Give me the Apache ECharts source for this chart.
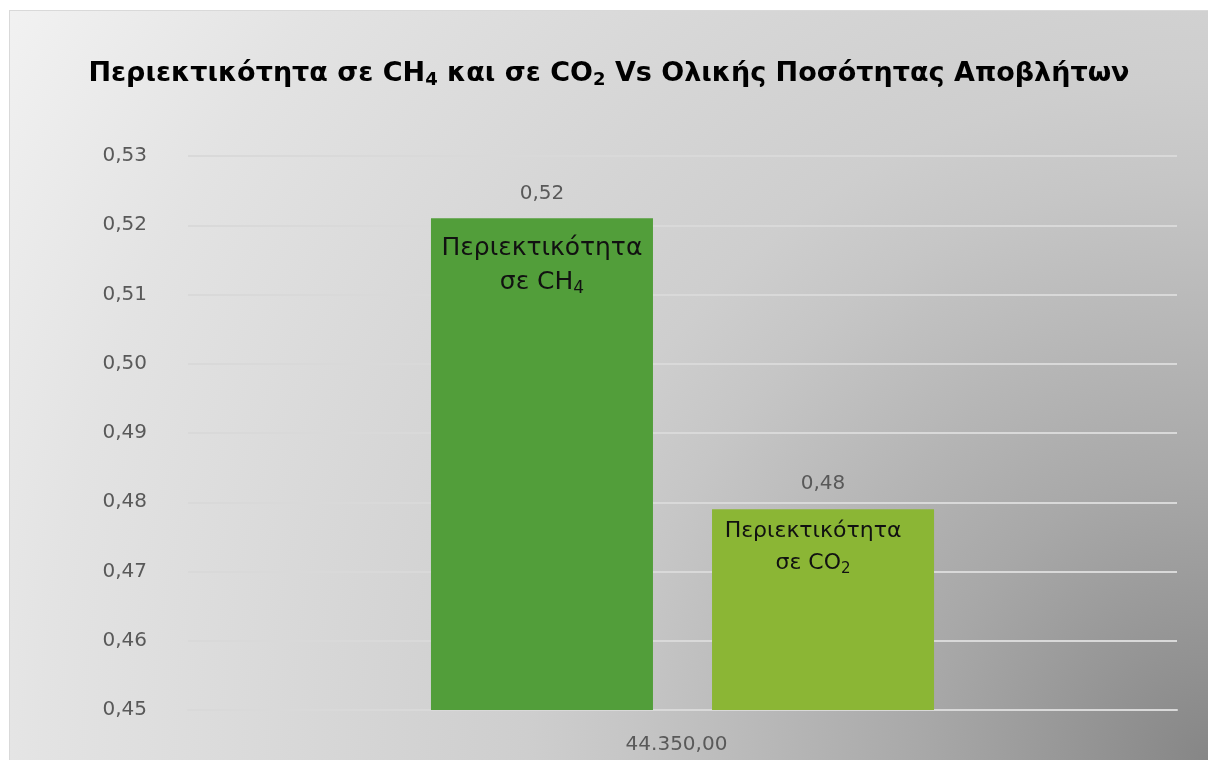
<!DOCTYPE html>
<html>
<head>
<meta charset="utf-8">
<script src="https://cdn.jsdelivr.net/npm/echarts@6/dist/echarts.min.js"></script>
<style>
  html, body { margin: 0; padding: 0; background: #ffffff; }
  #chart {
    position: absolute; left: 9px; top: 10px;
    width: 1199px; height: 750px; box-sizing: border-box;
    border-left: 1px solid #d9d9d9; border-top: 1px solid #d9d9d9;
  }
</style>
</head>
<body>
<div id="chart"></div>
<script>
// Waste quantity (single category) and gas fractions
const categories = ['44.350,00'];
const ch4Values = [0.521];
const co2Values = [0.479];
const seriesNames = ['Περιεκτικότητα σε CH4', 'Περιεκτικότητα σε CO2'];
const yTicks = { min: 0.45, max: 0.53, interval: 0.01 };

const FONT = '"DejaVu Sans", "Noto Sans", sans-serif';
const fmtComma = (v, d) => v.toFixed(d).replace('.', ',');

const chart = echarts.init(document.getElementById('chart'), null, { renderer: 'canvas' });

const barCommon = {
  type: 'bar',
  barWidth: 222,
  barGap: '26.6%'
};

chart.setOption({
  animation: false,
  // grey fill that darkens toward the bottom-right corner
  backgroundColor: {
    type: 'radial', x: 1198, y: 749, r: 1420, global: true,
    colorStops: [
      { offset: 0, color: '#868686' },
      { offset: 0.2, color: '#a8a8a8' },
      { offset: 0.41, color: '#c6c6c6' },
      { offset: 0.48, color: '#cecece' },
      { offset: 0.82, color: '#e3e3e3' },
      { offset: 1, color: '#f2f2f2' }
    ]
  },
  title: {
    text: 'Περιεκτικότητα σε CH{s|4} και σε CO{s|2} Vs Ολικής Ποσότητας Αποβλήτων',
    left: 'center',
    top: 42,
    textStyle: {
      fontFamily: FONT, fontSize: 27, fontWeight: 'bold', color: '#000000',
      rich: {
        s: { fontFamily: FONT, fontSize: 18, fontWeight: 'bold', color: '#000000', padding: [13, 0, 0, 0] }
      }
    }
  },
  grid: { left: 178, right: 31, top: 145, bottom: 50 },
  xAxis: [
    {
      type: 'category', data: categories,
      axisLine: { lineStyle: { color: '#d9d9d9', width: 2 } },
      axisTick: { show: false },
      axisLabel: { fontFamily: FONT, fontSize: 20, color: '#595959', margin: 25, padding: [0, 12, 0, 0] }
    },
    { type: 'category', data: categories, show: false }
  ],
  yAxis: {
    type: 'value', min: yTicks.min, max: yTicks.max, interval: yTicks.interval,
    axisLine: { show: false }, axisTick: { show: false },
    splitLine: { lineStyle: { color: '#d9d9d9', width: 2 } },
    axisLabel: {
      fontFamily: FONT, fontSize: 20, color: '#595959', margin: 41,
      formatter: v => fmtComma(v, 2)
    }
  },
  series: [
    Object.assign({}, barCommon, {
      name: seriesNames[0], data: ch4Values, itemStyle: { color: '#529e3a' },
      label: {
        show: true, position: 'insideTop', distance: 13,
        formatter: 'Περιεκτικότητα\nσε CH{s|4}',
        fontFamily: FONT, fontSize: 25, lineHeight: 34, color: '#111111',
        rich: { s: { fontFamily: FONT, fontSize: 17, color: '#111111', padding: [13, 0, 0, 0] } }
      }
    }),
    Object.assign({}, barCommon, {
      name: seriesNames[1], data: co2Values, itemStyle: { color: '#8bb635' },
      label: {
        show: true, position: 'insideTop', distance: 6, offset: [-10, 0],
        formatter: 'Περιεκτικότητα\nσε CO{s|2}',
        fontFamily: FONT, fontSize: 22, lineHeight: 32, color: '#111111',
        rich: { s: { fontFamily: FONT, fontSize: 15, color: '#111111', padding: [12, 0, 0, 0] } }
      }
    }),
    // value labels drawn on a hidden twin axis with identical bar layout
    Object.assign({}, barCommon, {
      xAxisIndex: 1, data: ch4Values, itemStyle: { color: 'rgba(0,0,0,0)' }, silent: true,
      label: {
        show: true, position: 'top', distance: 15,
        fontFamily: FONT, fontSize: 20, color: '#595959',
        formatter: p => fmtComma(p.value, 2)
      }
    }),
    Object.assign({}, barCommon, {
      xAxisIndex: 1, data: co2Values, itemStyle: { color: 'rgba(0,0,0,0)' }, silent: true,
      label: {
        show: true, position: 'top', distance: 15,
        fontFamily: FONT, fontSize: 20, color: '#595959',
        formatter: p => fmtComma(p.value, 2)
      }
    })
  ]
});
</script>
</body>
</html>
